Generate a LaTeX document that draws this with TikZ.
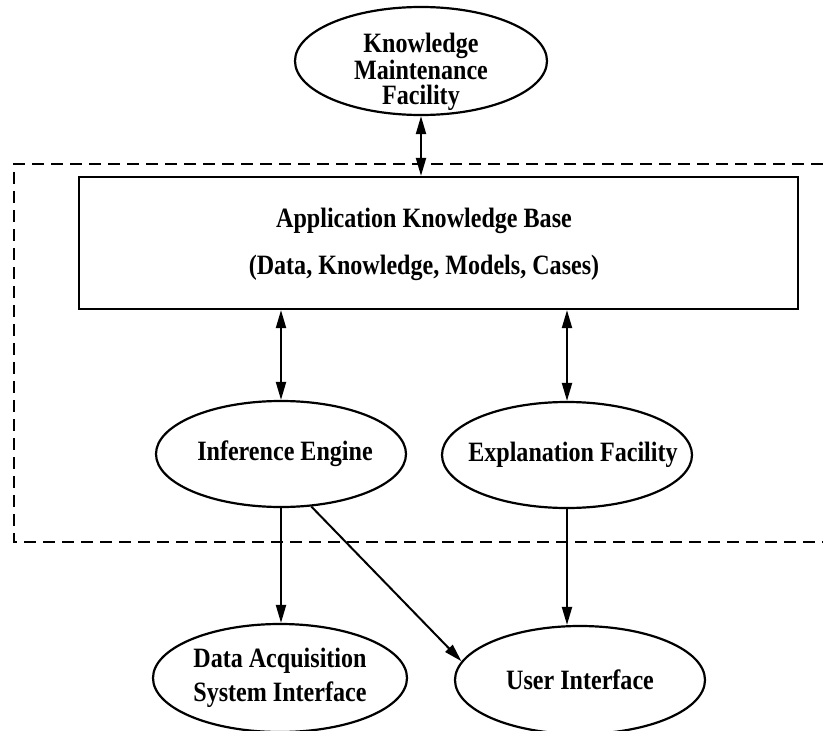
\documentclass[tikz,border=0pt]{standalone}
\usepackage{fontspec}
\setmainfont{Liberation Serif}[FakeStretch=0.86]
\usetikzlibrary{positioning,arrows.meta,shapes.geometric}
\tikzset{
  every node/.style={font=\fontsize{28}{25}\selectfont\bfseries},
  oval/.style={
    ellipse, draw, line width=2.2pt,
    minimum width=250pt, minimum height=106pt,
    inner sep=0pt, align=center
  },
  kbbox/.style={
    rectangle, draw, line width=2.2pt,
    minimum width=719pt, minimum height=132pt
  },
  dbl/.style={
    {Triangle[length=18pt,width=10pt]}-{Triangle[length=18pt,width=10pt]},
    line width=2pt
  },
  arrow/.style={
    -{Triangle[length=18pt,width=10pt]},
    line width=2pt
  },
  frame/.style={dash pattern=on 12pt off 7pt, line width=2pt},
}
\newcommand{\ctr}[1]{\makebox[0pt]{#1}}

\begin{document}
\begin{tikzpicture}[x=1pt, y=-1pt]
  \useasboundingbox (0,0) rectangle (823,731);
  % system boundary (runs off the right edge)
  \draw[frame] (823,164) -- (14,164) -- (14,542) -- (823,542);
  % knowledge base
  \node[kbbox] (kb) at (438.5,243) {};
  \node[align=center, font=\fontsize{28}{47}\selectfont\bfseries] (kbtxt) at (424,244)
    {Application Knowledge Base\\(Data, Knowledge, Models, Cases)};
  % ovals
  \node[oval, minimum width=252pt, minimum height=108pt] (kmf) at (421,61) {};
  \node[align=center] (kmftxt) at (421,72) {Knowledge\\Maintenance\\Facility};
  \node[oval] (ie) at (281,454) {\ctr{\hspace{8pt}Inference Engine}};
  \node[oval] (ef) at (567,455) {\ctr{\hspace{12pt}Explanation Facility}};
  \node[oval, minimum width=254pt, minimum height=108pt, font=\fontsize{28}{34}\selectfont\bfseries] (da) at (280,678)
    {\ctr{Data Acquisition}\\\ctr{System Interface}};
  \node[oval, minimum height=108pt] (ui) at (580,680) {\ctr{User Interface}};
  % connectors
  \draw[dbl] (kmf) -- (kmf |- kb.north);
  \draw[dbl] (ie |- kb.south) -- (ie);
  \draw[dbl] (ef |- kb.south) -- (ef);
  \draw[arrow] (ie) -- (ie |- da.north);
  \draw[arrow] (ie.-60) -- (ui.171);
  \draw[arrow] (ef) -- (ef |- ui.north);
\end{tikzpicture}
\end{document}
